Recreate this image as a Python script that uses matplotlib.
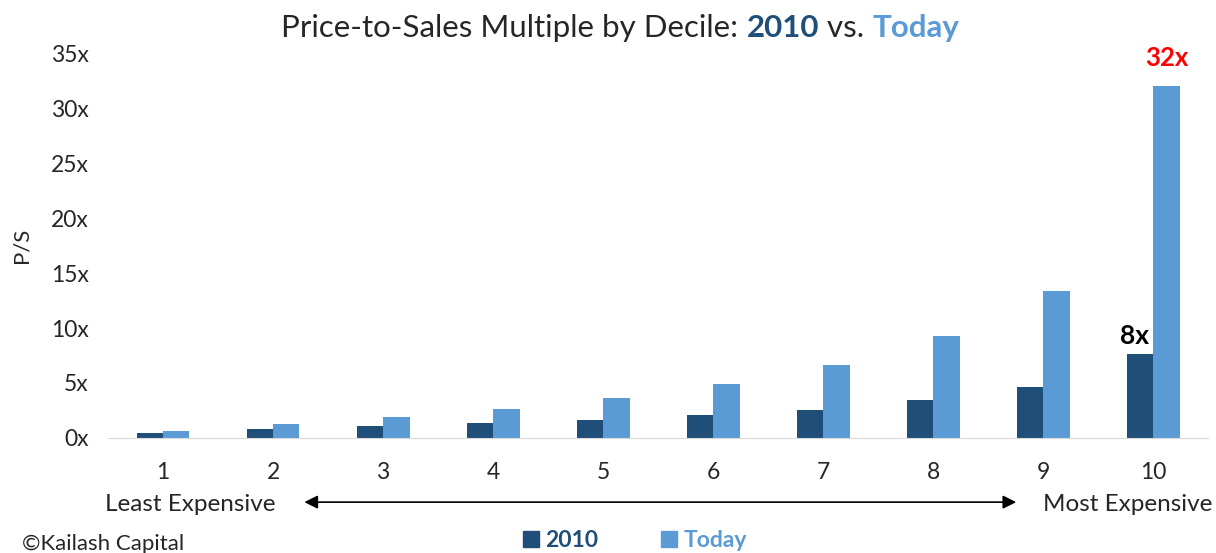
import numpy as np
import matplotlib
matplotlib.use("Agg")
import matplotlib.pyplot as plt
from matplotlib.patches import Patch

plt.rcParams["font.family"] = ["Lato", "DejaVu Sans"]

# data
deciles = [1, 2, 3, 4, 5, 6, 7, 8, 9, 10]
ps_2010 = [0.43, 0.79, 1.06, 1.36, 1.6, 2.09, 2.57, 3.44, 4.68, 7.66]
ps_today = [0.66, 1.25, 1.94, 2.64, 3.64, 4.94, 6.6, 9.27, 13.35, 32.0]
y_ticks = [0, 5, 10, 15, 20, 25, 30, 35]
y_ticklabels = ["0x", "5x", "10x", "15x", "20x", "25x", "30x", "35x"]

DARK = "#1F4E79"
LIGHT = "#5B9BD5"
TXT = "#262626"

fig = plt.figure(figsize=(12.16, 5.53), dpi=100, facecolor="white")
ax = fig.add_axes([0.0888, 0.208, 0.905, 0.696])

x = np.array(deciles)
w = 0.24
ax.bar(x - w / 2, ps_2010, width=w, color=DARK, label="2010")
ax.bar(x + w / 2, ps_today, width=w, color=LIGHT, label="Today")

ax.set_xlim(0.5, 10.5)
ax.set_ylim(0, 35)
ax.set_yticks(y_ticks)
ax.set_yticklabels(y_ticklabels)
ax.set_xticks(deciles)
ax.set_xticklabels([str(d) for d in deciles])
ax.tick_params(length=0, labelsize=16.5, colors=TXT)
ax.tick_params(axis="y", pad=14)
ax.tick_params(axis="x", pad=17)
for s in ["top", "right", "left"]:
    ax.spines[s].set_visible(False)
ax.spines["bottom"].set_color("#d9d9d9")
ax.set_ylabel("P/S", fontsize=16, color=TXT, labelpad=14)

# value callouts
ax.text(x[-1] - w / 2 - 0.05, ps_2010[-1] + 0.5, "8x", ha="center", va="bottom",
        fontsize=19, fontweight="bold", color="black")
ax.text(x[-1] + w / 2, ps_today[-1] + 1.5, "32x", ha="center", va="bottom",
        fontsize=18.5, fontweight="bold", color="#FF0000")

# expense direction
fig.text(0.0865, 0.088, "Least Expensive", fontsize=17.5, color=TXT, va="center")
fig.text(0.997, 0.088, "Most Expensive", fontsize=17.5, color=TXT, va="center", ha="right")
ax.annotate("", xy=(0.248, 0.092), xytext=(0.838, 0.092), xycoords="figure fraction",
            arrowprops=dict(arrowstyle="<|-|>", color="black", lw=1.2,
                            mutation_scale=20))

fig.text(0.018, 0.017, "\u00a9Kailash Capital", fontsize=16, color=TXT, va="center")

leg = fig.legend(handles=[Patch(color=DARK), Patch(color=LIGHT)],
                 labels=["2010", "Today"], loc="center", bbox_to_anchor=(0.522, 0.022),
                 ncol=2, frameon=False, handlelength=0.7, handleheight=0.7,
                 handletextpad=0.3, columnspacing=2.7,
                 prop={"size": 16.5, "weight": "bold"})
for t, c in zip(leg.get_texts(), [DARK, LIGHT]):
    t.set_color(c)

# multi-coloured title, pieces laid out left to right
pieces = [("Price-to-Sales Multiple by Decile: ", TXT, "normal"),
          ("2010", DARK, "bold"),
          (" vs. ", TXT, "normal"),
          ("Today", LIGHT, "bold")]
fig.canvas.draw()
renderer = fig.canvas.get_renderer()
arts = []
for txt, col, wt in pieces:
    arts.append(fig.text(0, 0.933, txt, fontsize=22.5, color=col, fontweight=wt,
                         va="baseline", ha="left"))
widths = [a.get_window_extent(renderer).width / fig.bbox.width for a in arts]
xpos = 0.51 - sum(widths) / 2
for a, wd in zip(arts, widths):
    a.set_x(xpos)
    xpos += wd

fig.savefig("out.png", dpi=100, facecolor="white")
